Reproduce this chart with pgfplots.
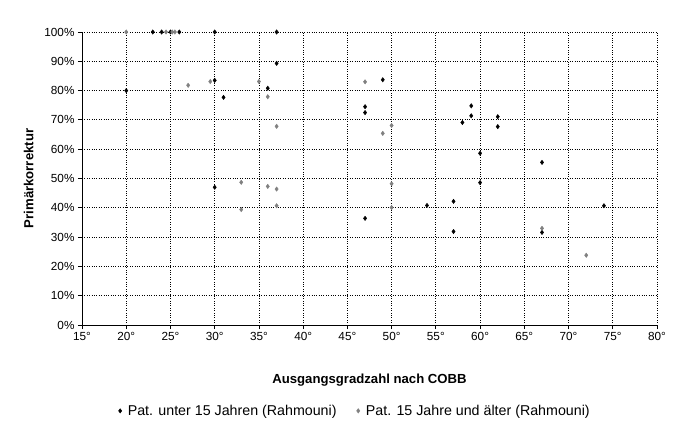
\documentclass[border=0pt]{standalone}
\usepackage{fontspec}
\setmainfont{Liberation Sans}
\usepackage{pgfplots}
\pgfplotsset{compat=1.18}
\definecolor{grayser}{RGB}{128,128,128}
\begin{document}
\begin{tikzpicture}
\path[use as bounding box] (0,0) rectangle (683bp,436bp);
\begin{axis}[
  at={(82bp,111bp)}, anchor=south west,
  scale only axis, width=575bp, height=293bp,
  xmin=15, xmax=80, ymin=0, ymax=100,
  xtick={15,20,...,80}, ytick={0,10,...,100},
  xticklabel={\pgfmathprintnumber{\tick}°},
  yticklabel={\pgfmathprintnumber{\tick}\%},
  /pgf/number format/assume math mode=true,
  ticklabel style={font=\fontsize{11.8}{13}\selectfont},
  axis x line*=bottom, axis y line*=left,
  axis line style={black, line width=0.9pt, -},
  tick align=outside, major tick length=4bp,
  tick style={black, line width=0.8pt},
  grid=major, major grid style={black, dotted, line width=0.8pt},
  xlabel={\bfseries Ausgangsgradzahl nach COBB},
  ylabel={\bfseries Primärkorrektur},
  label style={font=\fontsize{13.2}{15}\selectfont},
  xlabel style={at={(axis description cs:0.5,0)}, anchor=north, yshift=-45bp},
  ylabel style={at={(axis description cs:0,0.5)}, anchor=south, yshift=45bp},
  legend style={at={(axis description cs:0.475,-0.293)}, anchor=center, draw=none,
    font=\fontsize{14.3}{16}\selectfont, legend columns=2,
    /tikz/every odd column/.append style={column sep=4bp},
    /tikz/every even column/.append style={column sep=18bp}},
  legend cell align=left,
  clip=false,
]
\addplot[only marks, mark=diamond*, mark size=2.2bp, black] coordinates {
(20,80) (23,100) (24,100) (25,100) (26,100) (30,100) (37,100) (37,89.3)
(30,83.5) (36,80.8) (31,77.7) (30,47)
(47,74.5) (47,72.5) (49,83.7) (59,74.8) (59,71.4) (58,69.1) (62,71.1) (62,67.7)
(60,58.6) (60,48.6) (54,40.8) (57,42.2) (47,36.4) (57,31.9) (74,40.7) (67,55.5) (67,31.6)
};
\addlegendentry{Pat. unter 15 Jahren (Rahmouni)}
\addplot[only marks, mark=diamond*, mark size=2.2bp, grayser] coordinates {
(20,100) (24.5,100) (25.2,100) (25.5,100) (29.5,83.1) (27,81.8) (35,83.1) (36,77.9)
(37,67.8) (33,48.7) (36,47.3) (37,46.4) (33,39.4) (37,40.7)
(47,83) (50,68.1) (49,65.4) (50,48.2) (50,40.1) (67,33) (72,23.8)
};
\addlegendentry{Pat. 15 Jahre und älter (Rahmouni)}
\end{axis}
\end{tikzpicture}
\end{document}
